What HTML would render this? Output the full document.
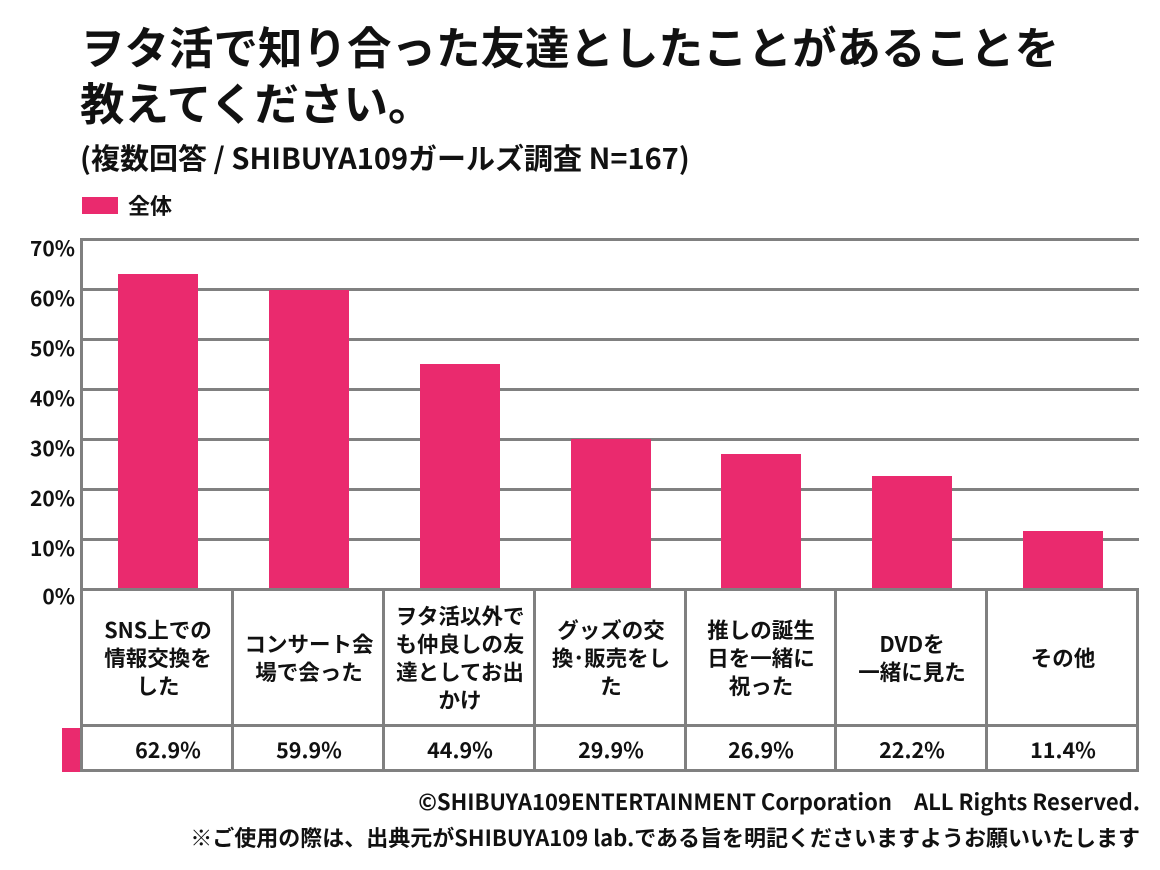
<!DOCTYPE html><html><head><meta charset="utf-8"><style>
body{margin:0;width:1160px;height:870px;background:#fff;position:relative;overflow:hidden;font-family:"Noto Sans CJK JP","Liberation Sans",sans-serif;color:#111}
.a{position:absolute}
.t{font-weight:bold;font-size:44.5px;line-height:56px;left:80px;top:17px;white-space:nowrap}
.g{position:absolute;left:81px;width:1058px;height:3px;background:#808080}
.yl{position:absolute;left:0;width:75px;text-align:right;font-weight:bold;font-size:21px;line-height:24px}
.bar{position:absolute;background:#ea2a6e;width:80px}
.v{position:absolute;width:3px;background:#808080;top:588px;height:184px}
.lab{position:absolute;top:591px;height:134px;display:flex;align-items:center;justify-content:center;text-align:center;font-weight:bold;font-size:21.5px;line-height:28px;width:150px}
.val{position:absolute;top:728px;height:42px;display:flex;align-items:center;justify-content:center;font-weight:bold;font-size:21.5px;width:150px}
</style></head><body>
<div class="a t">ヲタ活で知り合った友達としたことがあることを<br>教えてください。</div>
<div class="a" style="left:80px;top:138px;font-weight:bold;font-size:29px;line-height:38px;white-space:nowrap">(複数回答 / SHIBUYA109ガールズ調査 N=167)</div>
<div class="a" style="left:82px;top:197px;width:36px;height:17px;background:#ea2a6e"></div>
<div class="a" style="left:128px;top:190px;font-weight:bold;font-size:22px;line-height:30px">全体</div>
<div class="g" style="top:238px"></div><div class="g" style="top:288px"></div><div class="g" style="top:338px"></div><div class="g" style="top:388px"></div><div class="g" style="top:438px"></div><div class="g" style="top:488px"></div><div class="g" style="top:538px"></div>
<div class="yl" style="top:236px">70%</div><div class="yl" style="top:286px">60%</div><div class="yl" style="top:336px">50%</div><div class="yl" style="top:386px">40%</div><div class="yl" style="top:436px">30%</div><div class="yl" style="top:486px">20%</div><div class="yl" style="top:536px">10%</div><div class="yl" style="top:584px">0%</div>
<div class="a" style="left:80px;top:238px;width:3px;height:352px;background:#808080"></div>
<div class="bar" style="left:118px;top:274px;height:315px"></div>
<div class="bar" style="left:269px;top:290px;height:299px"></div>
<div class="bar" style="left:420px;top:364px;height:225px"></div>
<div class="bar" style="left:571px;top:439px;height:150px"></div>
<div class="bar" style="left:721px;top:454px;height:135px"></div>
<div class="bar" style="left:872px;top:476px;height:113px"></div>
<div class="bar" style="left:1023px;top:531px;height:58px"></div>
<div class="g" style="top:588px"></div><div class="g" style="top:724px"></div><div class="g" style="top:769px"></div>
<div class="v" style="left:80px"></div><div class="v" style="left:231px"></div><div class="v" style="left:382px"></div><div class="v" style="left:533px"></div><div class="v" style="left:684px"></div><div class="v" style="left:834px"></div><div class="v" style="left:985px"></div><div class="v" style="left:1136px"></div>
<div class="a" style="left:62px;top:728px;width:18px;height:44px;background:#ea2a6e"></div>
<div class="lab" style="left:83px">SNS上での<br>情報交換を<br>した</div>
<div class="lab" style="left:234px">コンサート会<br>場で会った</div>
<div class="lab" style="left:385px">ヲタ活以外で<br>も仲良しの友<br>達としてお出<br>かけ</div>
<div class="lab" style="left:536px">グッズの交<br>換･販売をし<br>た</div>
<div class="lab" style="left:686px">推しの誕生<br>日を一緒に<br>祝った</div>
<div class="lab" style="left:837px">DVDを<br>一緒に見た</div>
<div class="lab" style="left:988px">その他</div>
<div class="val" style="left:93px">62.9%</div><div class="val" style="left:234px">59.9%</div><div class="val" style="left:385px">44.9%</div><div class="val" style="left:536px">29.9%</div><div class="val" style="left:686px">26.9%</div><div class="val" style="left:837px">22.2%</div><div class="val" style="left:988px">11.4%</div>
<div class="a" style="right:20px;top:786px;font-weight:bold;font-size:22px;line-height:30px;white-space:pre">©SHIBUYA109ENTERTAINMENT Corporation　ALL Rights Reserved.</div>
<div class="a" style="right:20px;top:822px;font-weight:bold;font-size:22px;line-height:30px;white-space:nowrap">※ご使用の際は、出典元がSHIBUYA109 lab.である旨を明記くださいますようお願いいたします</div>
</body></html>
